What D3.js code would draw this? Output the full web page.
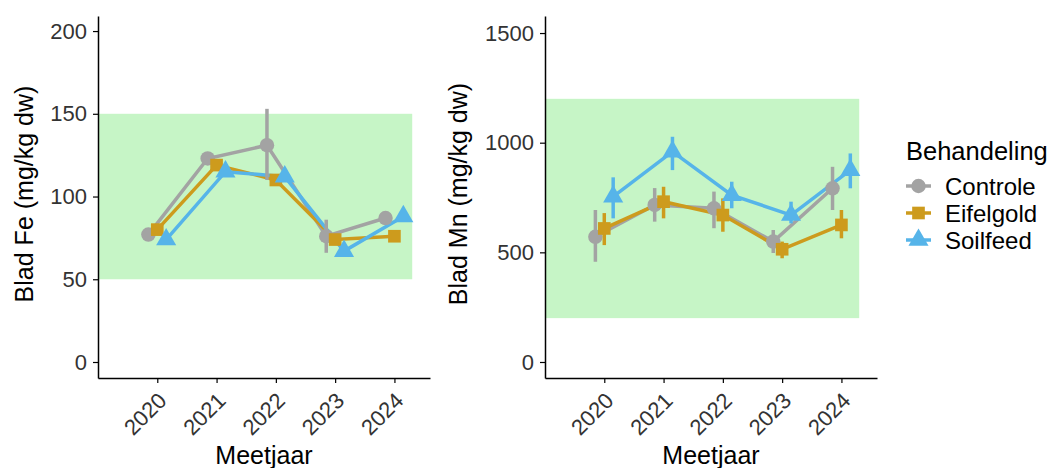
<!DOCTYPE html>
<html>
<head>
<meta charset="utf-8">
<script src="https://cdn.jsdelivr.net/npm/d3@7"></script>
<style>
  body { margin: 0; background: #fff; }
  svg { font-family: "Liberation Sans", Arial, sans-serif; }
</style>
</head>
<body>
<svg id="chart" width="1050" height="468"></svg>
<script>
// data
const years = [2020, 2021, 2022, 2023, 2024];
const groups = ['Controle', 'Eifelgold', 'Soilfeed'];

const feMean = {
  Controle:  [77, 123, 131, 76, 87],
  Eifelgold: [80, 119, 110, 74, 76],
  Soilfeed:  [74, 115, 112, 67, 88]
};
const feLow = {
  Controle:  [75, 121, 110, 66, 85],
  Eifelgold: [78, 117, 108, 72, 74],
  Soilfeed:  [72, 113, 110, 65, 86]
};
const feHigh = {
  Controle:  [79, 125, 153, 86, 89],
  Eifelgold: [82, 121, 112, 76, 78],
  Soilfeed:  [76, 117, 114, 69, 90]
};

const mnMean = {
  Controle:  [571, 716, 701, 549, 792],
  Eifelgold: [609, 731, 670, 514, 625],
  Soilfeed:  [754, 959, 761, 670, 875]
};
const mnLow = {
  Controle:  [457, 640, 610, 497, 693],
  Eifelgold: [533, 655, 594, 473, 564],
  Soilfeed:  [655, 875, 701, 632, 792]
};
const mnHigh = {
  Controle:  [693, 793, 777, 602, 890],
  Eifelgold: [679, 799, 746, 549, 693],
  Soilfeed:  [842, 1027, 822, 731, 951]
};

const feTicks = [0, 50, 100, 150, 200];
const mnTicks = [0, 500, 1000, 1500];
const feBand = [50, 150];
const mnBand = [200, 1200];

const colors = { Controle: '#a3a3a3', Eifelgold: '#cd9b1d', Soilfeed: '#56b4e9' };
const dodge = { Controle: -0.15, Eifelgold: 0, Soilfeed: 0.15 };

const svg = d3.select('#chart');
const FONT = '"Liberation Sans", Arial, sans-serif';

// shape path centred at 0,0
function shapePath(g) {
  if (g === 'Controle') return d3.symbol(d3.symbolCircle, 165)();
  if (g === 'Eifelgold') return d3.symbol(d3.symbolSquare, 160)();
  return d3.symbol(d3.symbolTriangle, 175)();
}

function panel(opt) {
  const x = d3.scaleLinear().domain([2019, 2024.6]).range([opt.left, opt.left + 332]);
  const y = d3.scaleLinear().domain(opt.yDomain).range([378, 16]);
  const g = svg.append('g');

  // reference band
  g.append('rect')
    .attr('x', x(2019))
    .attr('width', x(2024.3) - x(2019))
    .attr('y', y(opt.band[1]))
    .attr('height', y(opt.band[0]) - y(opt.band[1]))
    .attr('fill', '#c6f5c6');

  // lines
  const line = d3.line().x(d => x(d.x)).y(d => y(d.v));
  groups.forEach(gr => {
    const pts = years.map((yr, i) => ({ x: yr + dodge[gr], v: opt.mean[gr][i] }));
    g.append('path')
      .datum(pts)
      .attr('d', line)
      .attr('fill', 'none')
      .attr('stroke', colors[gr])
      .attr('stroke-width', 3.5);
  });

  // error bars and points
  groups.forEach(gr => {
    const pts = years.map((yr, i) => ({
      x: yr + dodge[gr], v: opt.mean[gr][i], lo: opt.low[gr][i], hi: opt.high[gr][i]
    }));
    g.selectAll(null).data(pts).enter().append('line')
      .attr('x1', d => x(d.x)).attr('x2', d => x(d.x))
      .attr('y1', d => y(d.lo)).attr('y2', d => y(d.hi))
      .attr('stroke', colors[gr])
      .attr('stroke-width', 3.5);
    g.selectAll(null).data(pts).enter().append('path')
      .attr('d', shapePath(gr))
      .attr('transform', d => `translate(${x(d.x)},${y(d.v)})`)
      .attr('fill', colors[gr]);
  });

  // y axis
  const ya = g.append('g')
    .attr('transform', `translate(${opt.left},0)`)
    .attr('font-family', FONT)
    .call(d3.axisLeft(y).tickValues(opt.ticks).tickFormat(d3.format('d'))
      .tickSize(5).tickPadding(6).tickSizeOuter(0));
  ya.select('.domain').attr('stroke-width', 1.5);
  ya.selectAll('.tick line').attr('stroke-width', 1.2);
  ya.selectAll('.tick text').attr('font-size', 22).attr('fill', '#333');

  // x axis
  const xa = g.append('g')
    .attr('transform', 'translate(0,378)')
    .attr('font-family', FONT)
    .call(d3.axisBottom(x).tickValues(years).tickFormat(d3.format('d')).tickSize(5).tickSizeOuter(0));
  xa.select('.domain').attr('stroke-width', 1.5);
  xa.selectAll('.tick line').attr('stroke-width', 1.2);
  xa.selectAll('.tick text')
    .attr('font-size', 22)
    .attr('fill', '#333')
    .attr('text-anchor', 'end')
    .attr('dy', null)
    .attr('y', 0)
    .attr('transform', 'translate(10,24) rotate(-45)');

  // titles
  g.append('text')
    .attr('x', (x.range()[0] + x.range()[1]) / 2)
    .attr('y', 464)
    .attr('text-anchor', 'middle')
    .attr('font-size', 25)
    .text('Meetjaar');
  g.append('text')
    .attr('transform', `translate(${opt.titleX},194) rotate(-90)`)
    .attr('text-anchor', 'middle')
    .attr('font-size', 25)
    .text(opt.title);
}

panel({
  left: 98, yDomain: [-9.67, 209.1], ticks: feTicks, band: feBand,
  mean: feMean, low: feLow, high: feHigh, title: 'Blad Fe (mg/kg dw)', titleX: 33
});
panel({
  left: 545, yDomain: [-73, 1577.7], ticks: mnTicks, band: mnBand,
  mean: mnMean, low: mnLow, high: mnHigh, title: 'Blad Mn (mg/kg dw)', titleX: 467
});

// legend
const legend = svg.append('g').attr('transform', 'translate(906,0)');
legend.append('text')
  .attr('x', 0).attr('y', 160)
  .attr('font-size', 25.5)
  .text('Behandeling');
groups.forEach((gr, i) => {
  const cy = 186 + i * 27;
  legend.append('line')
    .attr('x1', 0).attr('x2', 25).attr('y1', cy).attr('y2', cy)
    .attr('stroke', colors[gr]).attr('stroke-width', 3.5);
  legend.append('path')
    .attr('d', shapePath(gr))
    .attr('transform', `translate(12.5,${cy})`)
    .attr('fill', colors[gr]);
  legend.append('text')
    .attr('x', 39).attr('y', cy + 9)
    .attr('font-size', 24)
    .text(gr);
});
</script>
</body>
</html>
